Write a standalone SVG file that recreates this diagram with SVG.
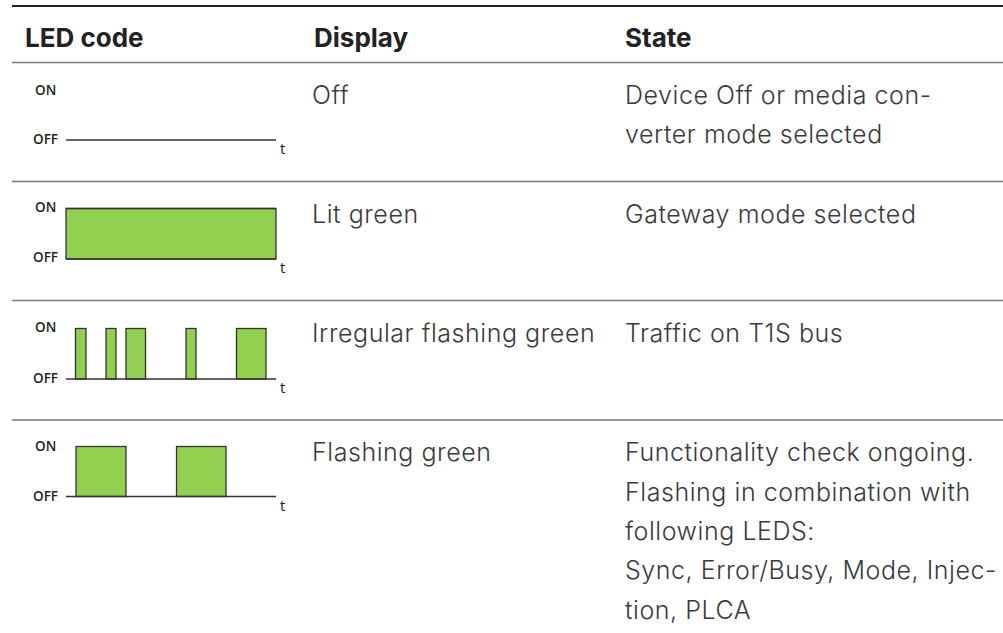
<svg xmlns="http://www.w3.org/2000/svg" width="1003" height="633" viewBox="0 0 1003 633">
<style>
.hd{font-family:"Inter","Liberation Sans",sans-serif;font-weight:700;font-size:26px;fill:#222}
.tx{font-family:"Inter","Liberation Sans",sans-serif;font-weight:300;font-size:25px;letter-spacing:0.55px;fill:#3a3a3a}
.lb{font-family:"Open Sans","Liberation Sans",sans-serif;font-size:13.5px;font-weight:600;fill:#222}
.tl{font-family:"Open Sans","Liberation Sans",sans-serif;font-size:15px;fill:#222}
.ax{stroke:#333;stroke-width:1.5;fill:none}
.pl{fill:#92d050;stroke:#333;stroke-width:1.3}
.rule{stroke:#777;stroke-width:1.5}
</style>
<rect width="1003" height="633" fill="#fff"/>
<g id="rules">
<line x1="12" y1="6" x2="1003" y2="6" stroke="#222" stroke-width="2"/>
<line class="rule" x1="12" y1="62.5" x2="1003" y2="62.5" stroke-width="2"/>
<line class="rule" x1="12" y1="181.5" x2="1003" y2="181.5"/>
<line class="rule" x1="12" y1="300.5" x2="1003" y2="300.5"/>
<line class="rule" x1="12" y1="420" x2="1003" y2="420"/>
</g>
<g id="header">
<text class="hd" x="25" y="47">LED code</text>
<text class="hd" x="314" y="47">Display</text>
<text class="hd" x="625" y="47">State</text>
</g>
<g id="row1">
<text class="lb" x="35" y="95">ON</text>
<text class="lb" x="33" y="144">OFF</text>
<line class="ax" x1="66" y1="140" x2="276" y2="140"/>
<text class="tl" x="280" y="154">t</text>
<text class="tx" x="312" y="104">Off</text>
<text class="tx" x="625" y="104">Device Off or media con-</text>
<text class="tx" x="625" y="143">verter mode selected</text>
</g>
<g id="row2">
<text class="lb" x="35" y="212">ON</text>
<text class="lb" x="33" y="262">OFF</text>
<rect class="pl" x="66" y="208.5" width="210" height="50.5" stroke="none"/>
<line class="ax" x1="66" y1="208.5" x2="276" y2="208.5"/>
<line class="ax" x1="66" y1="259" x2="276" y2="259"/>
<text class="tl" x="280" y="273">t</text>
<text class="tx" x="312" y="223">Lit green</text>
<text class="tx" x="625" y="223">Gateway mode selected</text>
</g>
<g id="row3">
<text class="lb" x="35" y="332">ON</text>
<text class="lb" x="33" y="383">OFF</text>
<rect class="pl" x="75.5" y="328.5" width="10.5" height="50.5"/>
<rect class="pl" x="106" y="328.5" width="10" height="50.5"/>
<rect class="pl" x="126" y="328.5" width="19.5" height="50.5"/>
<rect class="pl" x="186" y="328.5" width="10" height="50.5"/>
<rect class="pl" x="236.5" y="328.5" width="29.5" height="50.5"/>
<line class="ax" x1="66" y1="379" x2="276" y2="379"/>
<text class="tl" x="280" y="393">t</text>
<text class="tx" x="312" y="342">Irregular flashing green</text>
<text class="tx" x="625" y="342">Traffic on T1S bus</text>
</g>
<g id="row4">
<text class="lb" x="35" y="451">ON</text>
<text class="lb" x="33" y="501">OFF</text>
<rect class="pl" x="76" y="446.5" width="50" height="50"/>
<rect class="pl" x="176.5" y="446.5" width="49.5" height="50"/>
<line class="ax" x1="66" y1="496.5" x2="276" y2="496.5"/>
<text class="tl" x="280" y="511">t</text>
<text class="tx" x="312" y="461">Flashing green</text>
<text class="tx" x="625" y="461">Functionality check ongoing.</text>
<text class="tx" x="625" y="501">Flashing in combination with</text>
<text class="tx" x="625" y="540">following LEDS:</text>
<text class="tx" x="625" y="579">Sync, Error/Busy, Mode, Injec-</text>
<text class="tx" x="625" y="619">tion, PLCA</text>
</g>
</svg>
